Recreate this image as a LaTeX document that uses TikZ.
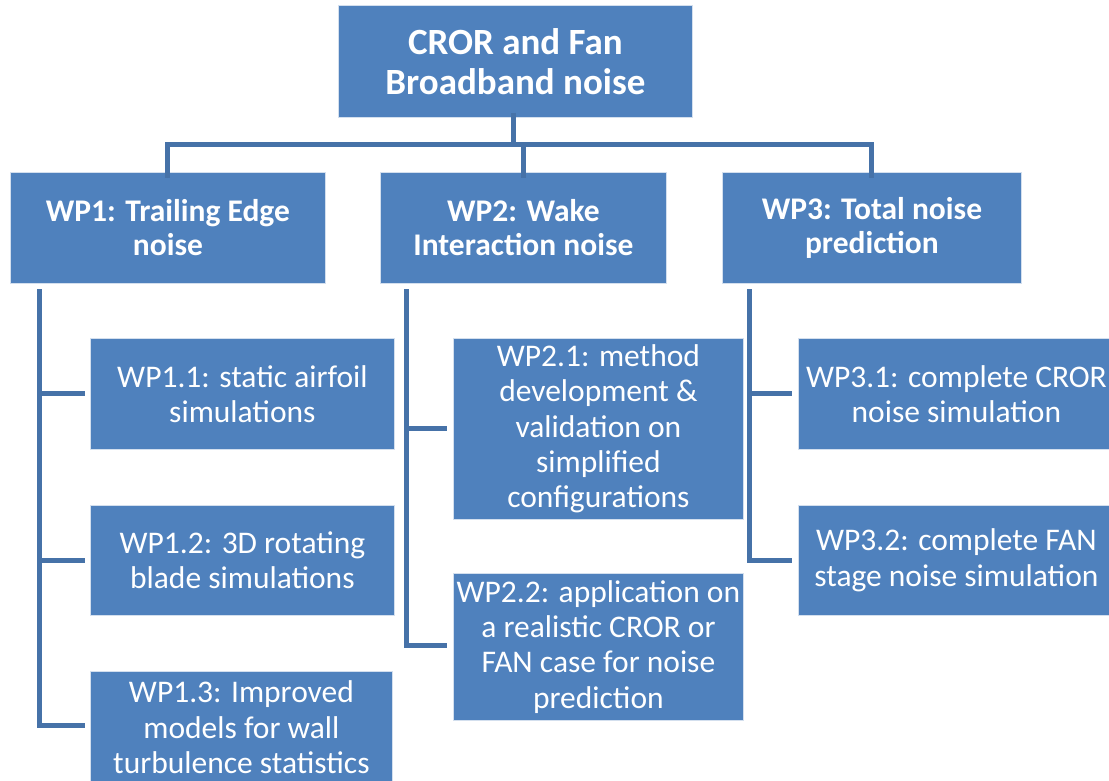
\documentclass[tikz,border=0pt]{standalone}
\usepackage{fontspec}
\setmainfont{Carlito}
\definecolor{boxblue}{HTML}{4F81BD}
\definecolor{linkblue}{HTML}{4672A8}
\begin{document}
\begin{tikzpicture}[x=1pt,y=-1pt,
  box/.style={fill=boxblue, draw=white!75!boxblue, line width=0.8pt, text=white,
    align=center, inner sep=0pt, anchor=north west},
  topfont/.style={font=\fontsize{37}{40}\selectfont\bfseries},
  midfont/.style={font=\fontsize{31.5}{34}\selectfont\bfseries},
  subfont/.style={font=\fontsize{31.5}{35.3}\selectfont},
  link/.style={draw=linkblue, line width=5pt},
  elbow/.style={draw=linkblue, line width=5pt, line join=miter}]
\useasboundingbox (0,0) rectangle (1109,780);
\begin{scope}
\clip (0,0) rectangle (1109,780);

% top level
\node[box, topfont, minimum width=354pt, minimum height=112pt] (root) at (338,5)
  {CROR and Fan\\Broadband noise};

% work packages
\node[box, midfont, minimum width=315pt, minimum height=111pt] (wp1) at (10,172)
  {WP1: Trailing Edge\\noise};
\node[box, midfont, minimum width=286pt, minimum height=111pt] (wp2) at (380,172)
  {WP2: Wake\\Interaction noise};
\node[box, midfont, minimum width=299pt, minimum height=111pt] (wp3) at (722,172)
  {WP3: Total noise\\prediction};

% WP1 tasks
\node[box, subfont, minimum width=304pt, minimum height=111pt] (wp11) at (90,338)
  {WP1.1: static airfoil\\simulations};
\node[box, subfont, minimum width=304pt, minimum height=110pt] (wp12) at (90,505)
  {WP1.2: 3D rotating\\blade simulations};
\node[box, subfont, minimum width=302pt, minimum height=112pt] (wp13) at (90,671)
  {WP1.3: Improved\\models for wall\\turbulence statistics};

% WP2 tasks
\node[box, subfont, minimum width=290pt, minimum height=181pt] (wp21) at (453,338)
  {WP2.1: method\\development \&\\validation on\\simplified\\configurations};
\node[box, subfont, minimum width=290pt, minimum height=147pt] (wp22) at (453,573)
  {WP2.2: application on\\a realistic CROR or\\FAN case for noise\\prediction};

% WP3 tasks
\node[box, subfont, minimum width=316pt, minimum height=111pt] (wp31) at (798,338)
  {WP3.1: complete CROR\\noise simulation};
\node[box, subfont, minimum width=316pt, minimum height=110pt] (wp32) at (798,505)
  {WP3.2: complete FAN\\stage noise simulation};
\end{scope}

% connectors from the top box to the work packages
\coordinate (bus) at (0,144);
\draw[link] ([xshift=-2pt,yshift=5pt]root.south) -- ([xshift=-2pt]root.south |- bus);
\draw[link] ([xshift=-2.5pt]wp1.north |- bus) -- ([xshift=2.5pt]wp3.north |- bus);
\draw[link] (wp1.north |- bus) -- ([yshift=-6pt]wp1.north);
\draw[link] (wp2.north |- bus) -- ([yshift=-6pt]wp2.north);
\draw[link] (wp3.north |- bus) -- ([yshift=-6pt]wp3.north);

% spines of the work packages
\coordinate (s1) at (39,289);
\coordinate (s2) at (406,289);
\coordinate (s3) at (749,289);
\draw[link] (s1) -- (s1 |- wp11.west) -- ([xshift=-5pt]wp11.west);
\draw[link] (s1 |- wp11.west) -- (s1 |- wp12.west) -- ([xshift=-5pt]wp12.west);
\draw[elbow] (s1 |- wp12.west) -- (s1 |- 0,725) -- ([xshift=-5pt]wp13.west |- 0,725);
\draw[link] (s2) -- (s2 |- wp21.west) -- ([xshift=-6pt]wp21.west);
\draw[elbow] (s2 |- wp21.west) -- (s2 |- 0,645) -- ([xshift=-6pt]wp22.west |- 0,645);
\draw[link] (s3) -- (s3 |- wp31.west) -- ([xshift=-6pt]wp31.west);
\draw[elbow] (s3 |- wp31.west) -- (s3 |- wp32.west) -- ([xshift=-6pt]wp32.west);
\end{tikzpicture}
\end{document}
